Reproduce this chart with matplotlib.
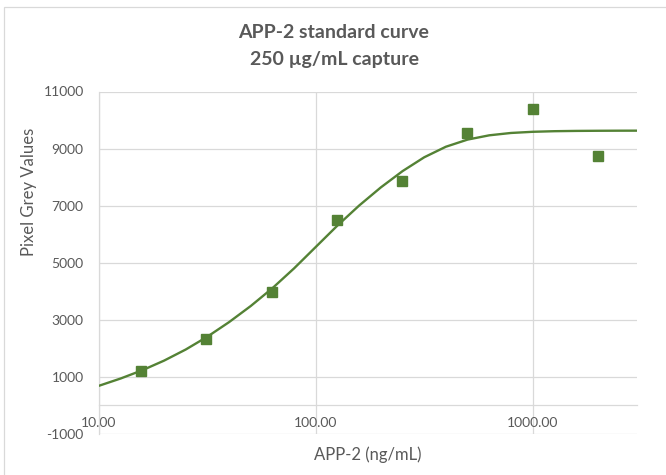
import matplotlib.pyplot as plt
from matplotlib.patches import Rectangle

# ── Data ──
conc = [15.625, 31.25, 62.5, 125, 250, 500, 1000, 2000]
grey = [1210, 2320, 3970, 6500, 7880, 9530, 10380, 8740]

# fitted standard curve, read at points along the line
fit_conc = [10, 12.59, 15.85, 19.95, 25.12, 31.62, 39.81, 50.12, 63.10,
            79.43, 100, 125.9, 158.5, 199.5, 251.2, 316.2, 398.1, 501.2,
            631.0, 794.3, 1000, 1259, 1585, 1995, 2512, 3030]
fit_grey = [690, 945, 1235, 1570, 1960, 2410, 2920, 3485, 4110, 4805, 5555,
            6305, 7005, 7640, 8210, 8695, 9065, 9315, 9465, 9547, 9588,
            9609, 9619, 9624, 9627, 9628]

y_ticks = list(range(-1000, 11001, 2000))
x_ticks = [10, 100, 1000]
x_tick_labels = ["10.00", "100.00", "1000.00"]

# ── Style ──
plt.rcParams["font.family"] = ["Lato", "DejaVu Sans"]
green = "#548235"
text_col = "#595959"
grid_col = "#d9d9d9"

fig = plt.figure(figsize=(6.66, 4.75), dpi=100)
fig.patch.set_facecolor("white")
ax = fig.add_axes([99 / 666, 1 - 434 / 475, (637 - 99) / 666, (434 - 91.5) / 475])

# chart-area border (runs off the right and bottom edges)
fig.add_artist(Rectangle((4 / 666, -0.1), 2, 1 - 7 / 475 + 0.1,
                         transform=fig.transFigure, fill=False,
                         edgecolor=grid_col, lw=0.9))

ax.plot(fit_conc, fit_grey, color=green, lw=1.7, zorder=3,
        solid_capstyle="round", solid_joinstyle="round")
ax.plot(conc, grey, ls="none", marker="s", ms=7.5, color=green, zorder=4)

ax.set_xscale("log")
ax.set_xlim(10, 3030)
ax.set_ylim(-1000, 11000)

ax.set_xticks(x_ticks)
ax.set_xticklabels(x_tick_labels)
ax.minorticks_off()
ax.set_yticks(y_ticks)
ax.set_yticklabels([str(v) for v in y_ticks])
ax.tick_params(length=0, labelsize=10, labelcolor=text_col)
ax.tick_params(axis="y", pad=11)
ax.tick_params(axis="x", pad=8)

ax.grid(True, color=grid_col, lw=0.9)
ax.set_axisbelow(True)
for s in ["top", "right"]:
    ax.spines[s].set_visible(False)
ax.spines["left"].set_color(grid_col)
ax.spines["left"].set_linewidth(0.9)
ax.spines["bottom"].set_position(("data", 0))
ax.spines["bottom"].set_color(grid_col)
ax.spines["bottom"].set_linewidth(0.9)

# titles
fig.text(334 / 666, 1 - 33 / 475, "APP-2 standard curve", ha="center",
         va="center", fontsize=14, fontweight="bold", color=text_col)
fig.text(334 / 666, 1 - 60 / 475, "250 µg/mL capture", ha="center",
         va="center", fontsize=14, fontweight="bold", color=text_col)
fig.text(368 / 666, 1 - 455 / 475, "APP-2 (ng/mL)", ha="center",
         va="center", fontsize=12, color=text_col)
fig.text(29 / 666, 1 - 192 / 475, "Pixel Grey Values", ha="center",
         va="center", fontsize=12, color=text_col, rotation=90)

fig.savefig("out.png", dpi=100, facecolor="white")
